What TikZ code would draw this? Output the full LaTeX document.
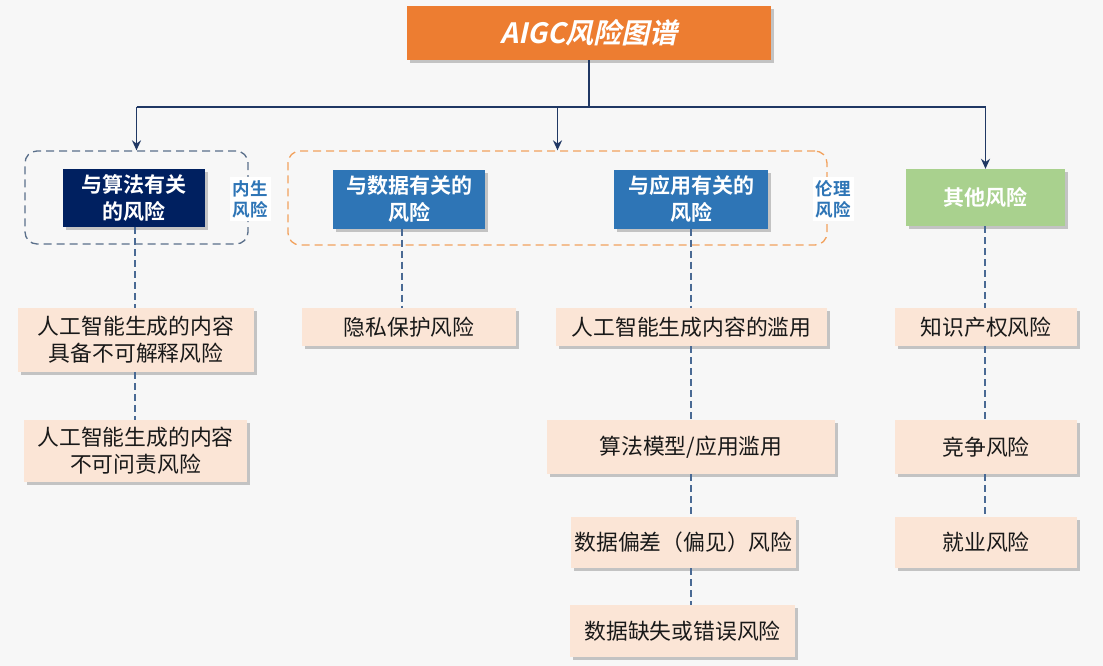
\documentclass[tikz,border=0pt]{standalone}
\usepackage{fontspec}
\setmainfont{Noto Sans CJK SC}[BoldFont={Noto Sans CJK SC Bold}]
\newfontfamily\titlefont{Noto Sans CJK SC Bold}[FakeSlant=0.22]
\usetikzlibrary{arrows.meta,shadows}
\definecolor{bgc}{HTML}{F7F7F7}
\definecolor{rootc}{HTML}{ED7D31}
\definecolor{navy}{HTML}{002060}
\definecolor{midblue}{HTML}{2E75B6}
\definecolor{greenc}{HTML}{A9D18E}
\definecolor{peach}{HTML}{FBE5D6}
\definecolor{linec}{HTML}{203864}
\definecolor{dashc}{HTML}{4A6A94}
\definecolor{grpgray}{HTML}{5A6F8A}
\definecolor{grporange}{HTML}{F2A25E}
\definecolor{labc}{HTML}{2E75B6}
\tikzset{
  shad/.style={drop shadow={shadow xshift=3pt,shadow yshift=-3pt,opacity=0.3,fill=black!70}},
  box/.style={shad,inner sep=0pt,align=center},
  rootbox/.style={box,fill=rootc,text=white,font=\titlefont\fontsize{28}{32}\selectfont},
  hdr/.style={box,text=white,font=\bfseries\fontsize{21}{27}\selectfont},
  leaf/.style={box,fill=peach,text=black!90,font=\fontsize{21.8}{27}\selectfont},
  grp/.style={draw,dash pattern=on 8pt off 5pt,line width=1.3pt,rounded corners=12pt,inner sep=0pt},
  lab/.style={fill=white,text=labc,inner sep=3pt,align=center,font=\bfseries\fontsize{17.5}{21}\selectfont},
  trunk/.style={draw=linec,line width=1.8pt},
  arr/.style={trunk,-{Stealth[length=10pt,width=9pt]}},
  conn/.style={draw=dashc,line width=1.3pt,dash pattern=on 7pt off 4pt}
}
\begin{document}
\begin{tikzpicture}[x=1pt,y=-1pt]
\fill[bgc] (0,0) rectangle (1103,666);
\useasboundingbox (0,0) rectangle (1103,666);
% groups
\node[grp,draw=grpgray,minimum width=223pt,minimum height=93pt] (grp1) at (136.5,197.5) {};
\node[grp,draw=grporange,minimum width=539pt,minimum height=94pt] (grp2) at (557.5,198) {};
% root
\node[rootbox,minimum width=364pt,minimum height=54pt] (root) at (589,33) {AIGC风险图谱};
% headers
\node[hdr,fill=navy,minimum width=142pt,minimum height=58pt] (h1) at (133.5,198) {与算法有关\\的风险};
\node[hdr,fill=midblue,minimum width=152pt,minimum height=59pt] (h2) at (409,199) {与数据有关的\\风险};
\node[hdr,fill=midblue,minimum width=154pt,minimum height=59pt] (h3) at (691,199) {与应用有关的\\风险};
\node[hdr,fill=greenc,minimum width=159pt,minimum height=57pt] (h4) at (985.5,197.5) {其他风险};
% labels
\node[lab] (lab1) at (250,199) {内生\\风险};
\node[lab] (lab2) at (833,199) {伦理\\风险};
% leaves
\node[leaf,minimum width=236pt,minimum height=64pt] (a1) at (136,340) {人工智能生成的内容\\具备不可解释风险};
\node[leaf,minimum width=223pt,minimum height=62pt] (a2) at (135.5,451) {人工智能生成的内容\\不可问责风险};
\node[leaf,minimum width=214pt,minimum height=38pt] (b1) at (409,327) {隐私保护风险};
\node[leaf,minimum width=271pt,minimum height=38pt] (c1) at (691.5,327) {人工智能生成内容的滥用};
\node[leaf,minimum width=288pt,minimum height=54pt] (c2) at (691,447) {算法模型/应用滥用};
\node[leaf,minimum width=225pt,minimum height=51pt] (c3) at (683.5,542.5) {数据偏差（偏见）风险};
\node[leaf,minimum width=225pt,minimum height=52pt] (c4) at (682.5,631) {数据缺失或错误风险};
\node[leaf,minimum width=182pt,minimum height=38pt] (d1) at (986,327) {知识产权风险};
\node[leaf,minimum width=182pt,minimum height=54pt] (d2) at (986,447) {竞争风险};
\node[leaf,minimum width=182pt,minimum height=51pt] (d3) at (986,542.5) {就业风险};
% column coordinates
\coordinate (bus) at (0,107);
\coordinate (col1) at (135,0);
\coordinate (col2) at (402,0);
\coordinate (col3) at (691,0);
\coordinate (col4) at (985,0);
% trunk
\draw[trunk] (root.south) -- (root.south |- bus);
\draw[trunk] (grp1.north |- bus) -- (h4.north |- bus);
\draw[arr] (grp1.north |- bus) -- (grp1.north);
\draw[arr] (grp2.north |- bus) -- (grp2.north);
\draw[arr] (h4.north |- bus) -- (h4.north);
% dashed connectors
\draw[conn] (h1.south -| col1) -- (a1.north -| col1);
\draw[conn] (a1.south -| col1) -- (a2.north -| col1);
\draw[conn] (h2.south -| col2) -- (b1.north -| col2);
\draw[conn] (h3.south -| col3) -- (c1.north -| col3);
\draw[conn] (c1.south -| col3) -- (c2.north -| col3);
\draw[conn] (c2.south -| col3) -- (c3.north -| col3);
\draw[conn] (c3.south -| col3) -- (c4.north -| col3);
\draw[conn] (h4.south -| col4) -- (d1.north -| col4);
\draw[conn] (d1.south -| col4) -- (d2.north -| col4);
\draw[conn] (d2.south -| col4) -- (d3.north -| col4);
\end{tikzpicture}
\end{document}
